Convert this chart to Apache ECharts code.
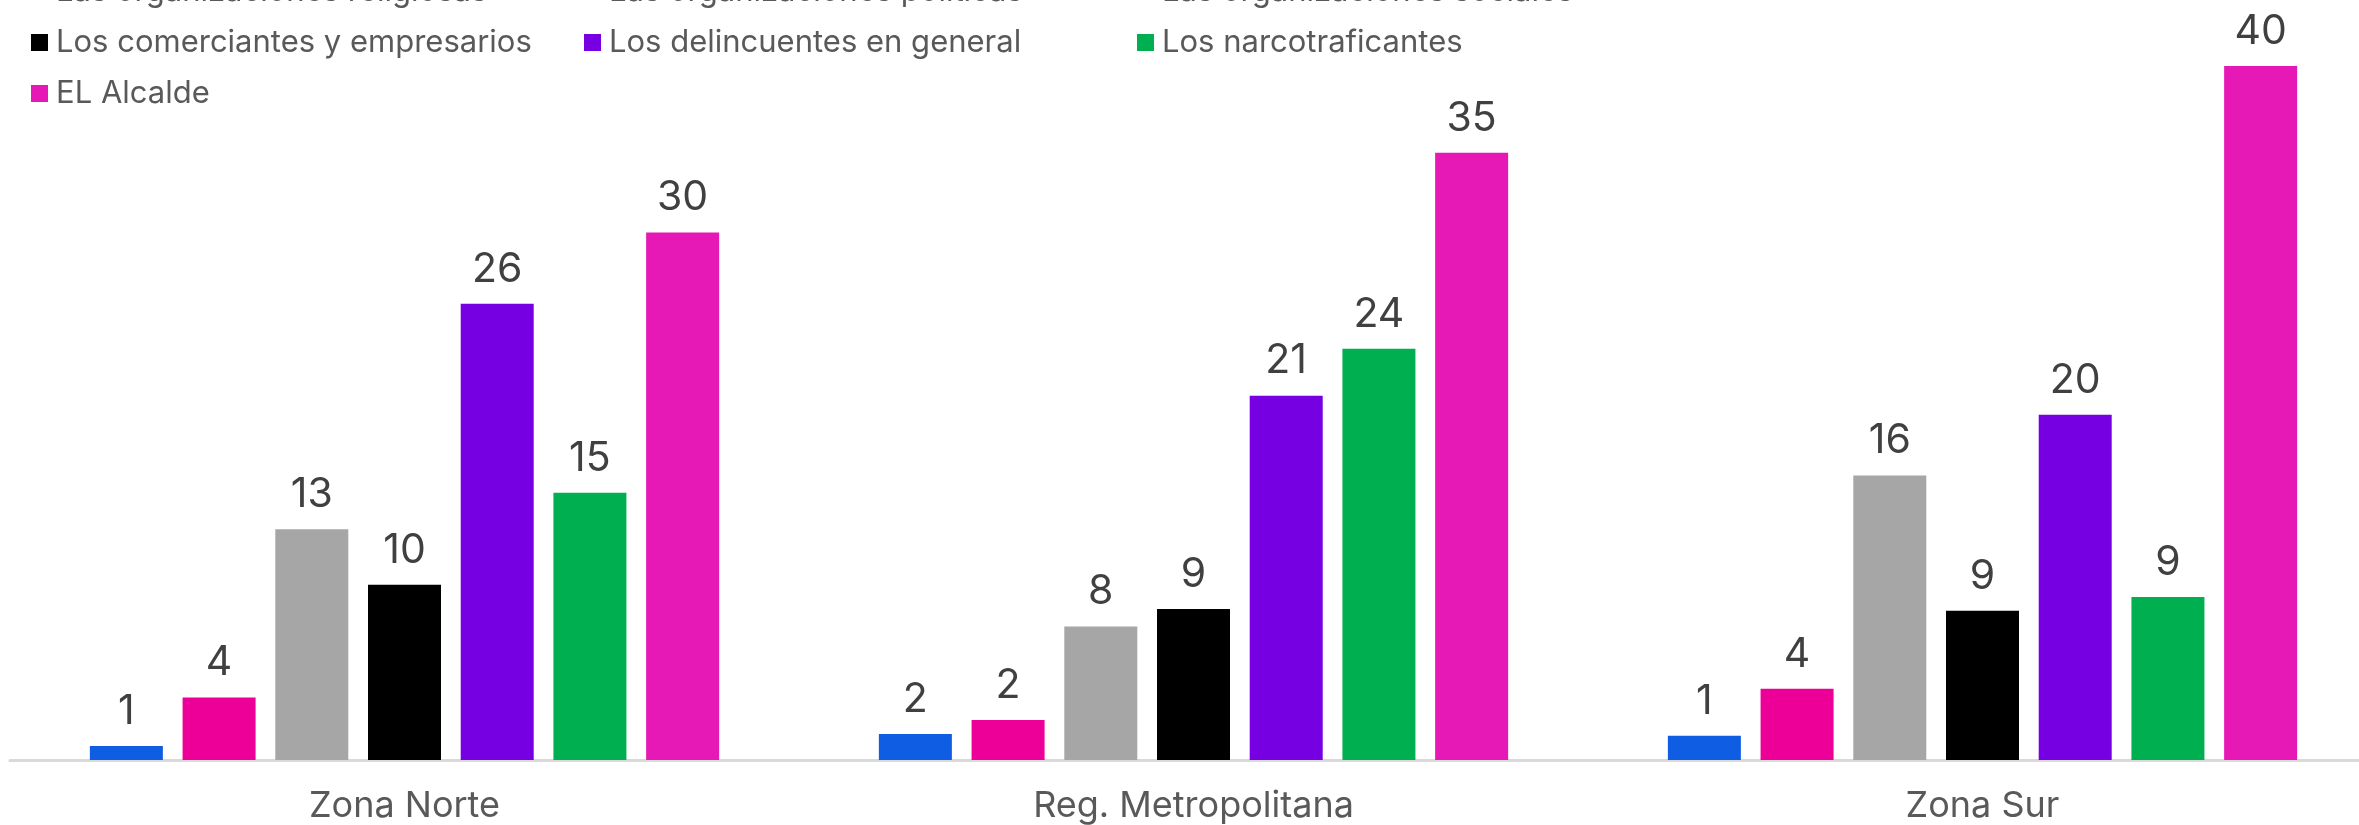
<!DOCTYPE html>
<html>
<head>
<meta charset="utf-8">
<script src="https://cdn.jsdelivr.net/npm/echarts@6/dist/echarts.min.js"></script>
<style>html,body{margin:0;padding:0;background:#fff;overflow:hidden;}#c{width:2380px;height:825px;}</style>
</head>
<body>
<div id="c"></div>
<script>
const categories = ['Zona Norte', 'Reg. Metropolitana', 'Zona Sur'];
const seriesNames = [
  'Las organizaciones religiosas',
  'Las organizaciones políticas',
  'Las organizaciones sociales',
  'Los comerciantes y empresarios',
  'Los delincuentes en general',
  'Los narcotraficantes',
  'EL Alcalde'
];
const religiosas = [0.8, 1.5, 1.4];
const politicas = [3.6, 2.3, 4.1];
const sociales = [13.3, 7.7, 16.4];
const comerciantes = [10.1, 8.7, 8.6];
const delincuentes = [26.3, 21.0, 19.9];
const narcos = [15.4, 23.7, 9.4];
const alcalde = [30.4, 35.0, 40.0];
const colors = ['#0F5DE3', '#EC0097', '#A6A6A6', '#000000', '#7700E3', '#00B050', '#E619B6'];

const allData = [religiosas, politicas, sociales, comerciantes, delincuentes, narcos, alcalde];
const FONT = 'Inter';
const chart = echarts.init(document.getElementById('c'), null, {renderer: 'canvas'});
chart.setOption({
  animation: false,
  color: colors,
  legend: {
    left: 31,
    top: -24,
    width: 1680,
    padding: 0,
    itemGap: 20,
    itemWidth: 17,
    itemHeight: 17,
    icon: 'rect',
    textStyle: {fontFamily: FONT, fontSize: 31, color: '#595959', width: 508, lineHeight: 20, padding: [0,0,0,3]},
    data: seriesNames
  },
  grid: {left: 10, width: 2367, top: 66, bottom: 65, containLabel: false},
  xAxis: {
    type: 'category',
    data: categories,
    axisLine: {lineStyle: {color: '#D9D9D9', width: 3}},
    axisTick: {show: false},
    axisLabel: {fontFamily: FONT, fontSize: 36, color: '#595959', margin: 28}
  },
  yAxis: {type: 'value', min: 0, max: 40, show: false, splitLine: {show: false}},
  series: seriesNames.map((n, i) => ({
    name: n,
    type: 'bar',
    data: allData[i],
    barWidth: 73,
    barGap: '27%',
    label: {
      show: true, position: 'top', distance: 14,
      fontFamily: FONT, fontSize: 41, color: '#404040',
      formatter: p => Math.round(p.value)
    }
  }))
});
</script>
</body>
</html>
